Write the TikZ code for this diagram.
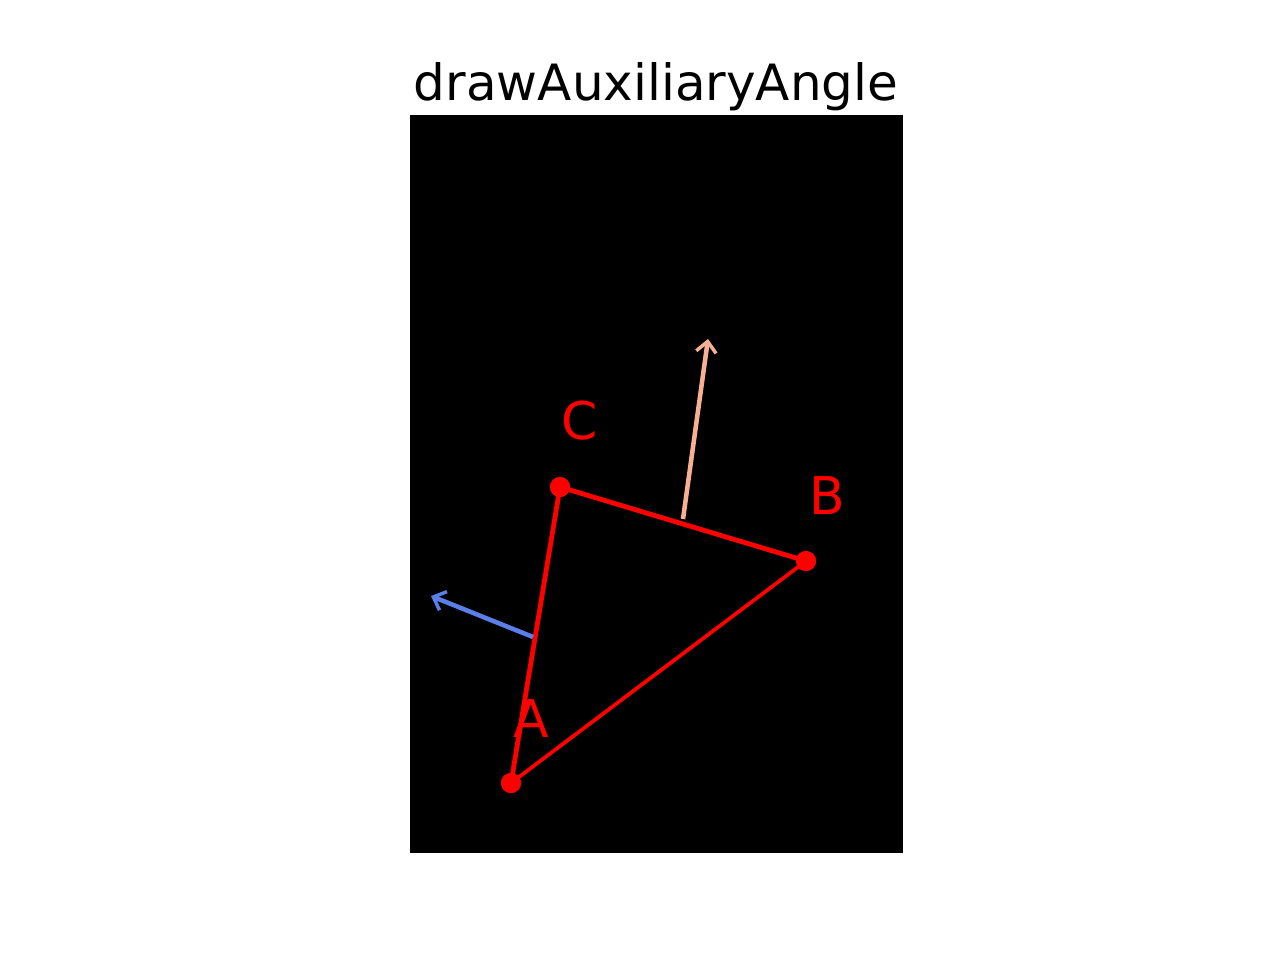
\documentclass[tikz,border=0pt]{standalone}
\usepackage{fontspec}
\setmainfont{DejaVu Sans}
\usetikzlibrary{arrows.meta}
\definecolor{salm}{HTML}{F7B093}
\definecolor{blu}{HTML}{5B7FE8}
\definecolor{pred}{HTML}{FF0000}
\tikzset{
  pt/.style={circle,fill=pred,inner sep=0pt,minimum size=15pt},
  lab/.style={anchor=base west,text=pred,inner sep=0pt,font=\fontsize{39}{46}\selectfont},
  side/.style={draw=pred,line width=3.6pt},
  thinside/.style={draw=pred,line width=2.8pt},
  aux/.style={line width=3.4pt,-{Straight Barb[length=8pt,width=15pt,line width=2.6pt]}}
}
\begin{document}
\begin{tikzpicture}[x=0.75pt,y=-0.75pt]
\useasboundingbox (0,0) rectangle (1280,960);
\fill[white] (0,0) rectangle (1280,960);
\fill[black] (410,115) rectangle (903,853);
\node[anchor=base,inner sep=0pt,font=\fontsize{37.5}{45}\selectfont] (title) at (656,100) {drawAuxiliaryAngle};
\node[pt] (A) at (511,783) {};
\node[pt] (B) at (806,561) {};
\node[pt] (C) at (560,487) {};
\coordinate (S1) at (683,519);
\coordinate (E1) at (708,339);
\coordinate (S2) at (533,637);
\coordinate (E2) at (431,596);
\draw[side] (A.center) -- (C.center);
\draw[side] (C.center) -- (B.center);
\draw[thinside] (A.center) -- (B.center);
\draw[aux,draw=salm] (S1) -- (E1);
\draw[aux,draw=blu] (S2) -- (E2);
\node[pt] at (A) {};
\node[pt] at (B) {};
\node[pt] at (C) {};
\node[lab] (lA) at (513,737) {A};
\node[lab] (lB) at (809,514) {B};
\node[lab] (lC) at (561,439) {C};
\end{tikzpicture}
\end{document}
